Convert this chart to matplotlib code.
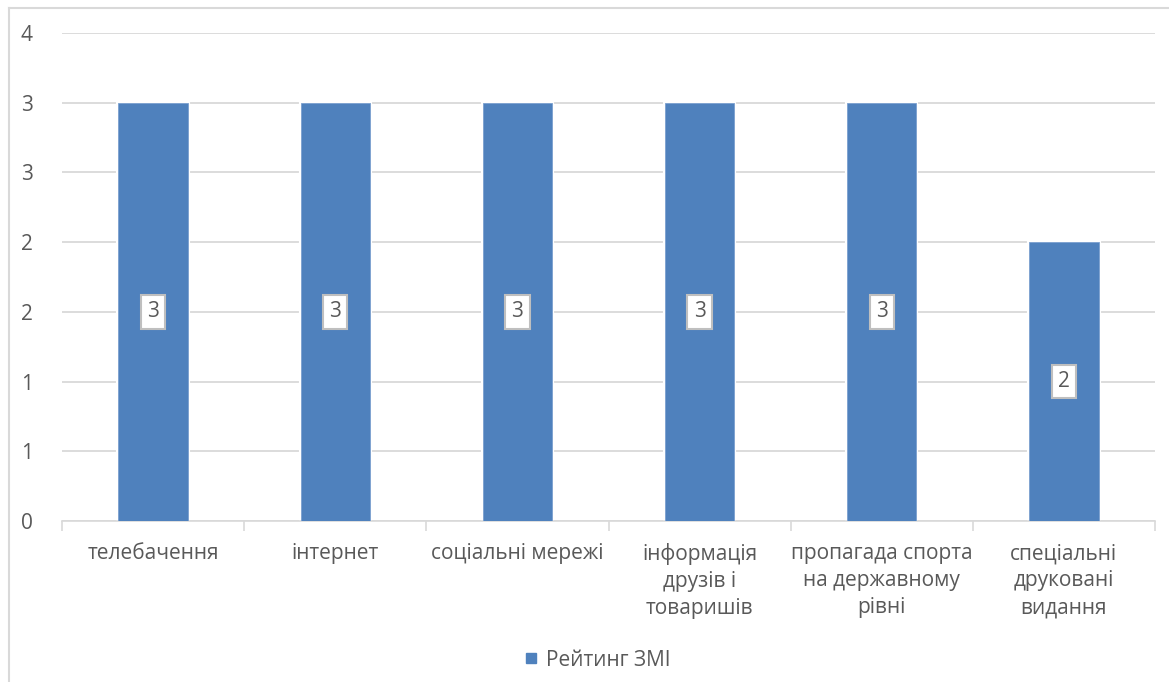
import numpy as np
import matplotlib.pyplot as plt
from matplotlib.lines import Line2D

# дані
categories = ['телебачення', 'інтернет', 'соціальні мережі',
              'інформація\nдрузів і\nтоваришів',
              'пропагада спорта\nна державному\nрівні',
              'спеціальні\nдруковані\nвидання']
values = [3, 3, 3, 3, 3, 2]
series_name = 'Рейтинг ЗМІ'
y_ticks = [0, 0.5, 1, 1.5, 2, 2.5, 3, 3.5]
y_tick_labels = ['0', '1', '1', '2', '2', '3', '3', '4']

bar_color = '#4f81bd'
text_color = '#595959'
grid_color = '#d9d9d9'

plt.rcParams['font.family'] = ['Open Sans', 'DejaVu Sans']

fig = plt.figure(figsize=(11.69, 6.82), dpi=100)
ax = fig.add_axes([62 / 1169, 1 - 521 / 682, (1155 - 62) / 1169, (521 - 33) / 682])

x = np.arange(len(categories))
# біла обводка дає розрив сітки біля стовпців
ax.bar(x, values, width=0.38, color=bar_color, edgecolor='white', linewidth=3, zorder=2)
ax.bar(x, values, width=0.38, color=bar_color, edgecolor='#7a9fcf', linewidth=0.6, zorder=3)

# підписи значень
for xi, v in zip(x, values):
    ax.text(xi, v / 2, str(v), ha='center', va='center', fontsize=15, color=text_color, zorder=4,
            bbox=dict(boxstyle='square,pad=0.3', facecolor='white', edgecolor='#bfbfbf', linewidth=1.5))

ax.set_xlim(-0.5, len(categories) - 0.5)
ax.set_ylim(0, 3.5)
ax.set_yticks(y_ticks)
ax.set_yticklabels(y_tick_labels)
ax.yaxis.grid(True, color=grid_color, linewidth=1.3, zorder=0)
ax.set_axisbelow(True)
ax.tick_params(axis='y', length=0, pad=21, labelsize=15, labelcolor=text_color)

ax.set_xticks(x)
ax.set_xticklabels(categories, fontsize=15, color=text_color, linespacing=1.38, va='top')
ax.set_xticks(np.arange(len(categories) + 1) - 0.5, minor=True)
ax.tick_params(axis='x', which='major', length=0, pad=16)
ax.tick_params(axis='x', which='minor', length=7, color=grid_color, width=1.2)

for s in ['top', 'right', 'left']:
    ax.spines[s].set_visible(False)
ax.spines['bottom'].set_color(grid_color)
ax.spines['bottom'].set_linewidth(1.2)

# легенда
handle = Line2D([], [], marker='s', linestyle='', color=bar_color, markersize=7)
fig.legend([handle], [series_name], loc='center', bbox_to_anchor=(593 / 1169, 1 - 660 / 682),
           frameon=False, fontsize=15, labelcolor=text_color, handletextpad=0.0, handlelength=1.5)

# рамка діаграми
fig.add_artist(Line2D([9 / 1169, 1], [1 - 8 / 682, 1 - 8 / 682], color=grid_color, linewidth=1.5))
fig.add_artist(Line2D([9 / 1169, 9 / 1169], [0, 1 - 8 / 682], color=grid_color, linewidth=1.5))

fig.savefig('out.png', dpi=100)
